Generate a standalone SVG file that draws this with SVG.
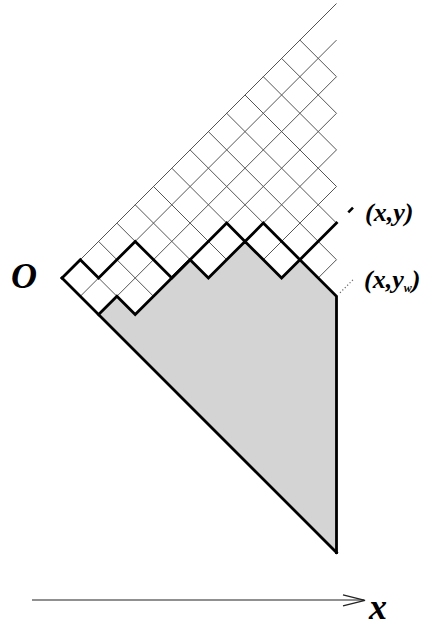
<svg xmlns="http://www.w3.org/2000/svg" width="433" height="627" viewBox="0 0 433 627">
  <style>
    .grid { stroke: #555; stroke-width: 1; fill: none; }
    .thick { stroke: #000; stroke-width: 2.8; fill: none; stroke-linejoin: miter; stroke-linecap: square; }
    .lbl { font-family: "Liberation Serif", "Times New Roman", serif; font-weight: bold; font-style: italic; fill: #000; }
  </style>
  <rect width="433" height="627" fill="#fff"/>

  <g id="shaded-region">
    <polygon points="98.6,314.6 116.9,296.3 135.2,314.6 190.1,259.7 208.4,278 245,241.4 281.6,278 299.9,259.7 336.5,296.3 336.5,552.5" fill="#d4d4d4"/>
  </g>

  <g id="grid">
    <!-- up-right lines -->
    <line class="grid" x1="62" y1="278" x2="336.5" y2="3.5"/>
    <line class="grid" x1="80.3" y1="296.3" x2="336.5" y2="40.1"/>
    <line class="grid" x1="98.6" y1="314.6" x2="336.5" y2="76.7"/>
    <line class="grid" x1="135.2" y1="314.6" x2="336.5" y2="113.3"/>
    <line class="grid" x1="208.4" y1="278" x2="336.5" y2="149.9"/>
    <line class="grid" x1="263.3" y1="259.7" x2="336.5" y2="186.5"/>
    <line class="grid" x1="281.6" y1="278" x2="336.5" y2="223.1"/>
    <line class="grid" x1="318.2" y1="278" x2="336.5" y2="259.7"/>
    <!-- down-right lines -->
    <line class="grid" x1="80.3" y1="259.7" x2="135.2" y2="314.6"/>
    <line class="grid" x1="98.6" y1="241.4" x2="153.5" y2="296.3"/>
    <line class="grid" x1="116.9" y1="223.1" x2="171.8" y2="278"/>
    <line class="grid" x1="135.2" y1="204.8" x2="208.4" y2="278"/>
    <line class="grid" x1="153.5" y1="186.5" x2="226.7" y2="259.7"/>
    <line class="grid" x1="171.8" y1="168.2" x2="281.6" y2="278"/>
    <line class="grid" x1="190.1" y1="149.9" x2="336.5" y2="296.3"/>
    <line class="grid" x1="208.4" y1="131.6" x2="336.5" y2="259.7"/>
    <line class="grid" x1="226.7" y1="113.3" x2="336.5" y2="223.1"/>
    <line class="grid" x1="245" y1="95" x2="336.5" y2="186.5"/>
    <line class="grid" x1="263.3" y1="76.7" x2="336.5" y2="149.9"/>
    <line class="grid" x1="281.6" y1="58.4" x2="336.5" y2="113.3"/>
    <line class="grid" x1="299.9" y1="40.1" x2="336.5" y2="76.7"/>
  </g>

  <g id="paths">
    <polyline id="walk-y" class="thick" points="62,278 80.3,259.7 98.6,278 135.2,241.4 171.8,278 226.7,223.1 245,241.4 263.3,223.1 299.9,259.7 336.5,223.1"/>
    <polyline id="walk-yw" class="thick" points="98.6,314.6 116.9,296.3 135.2,314.6 190.1,259.7 208.4,278 245,241.4 281.6,278 299.9,259.7 336.5,296.3 336.5,552.5"/>
    <line id="lower-boundary" class="thick" x1="62" y1="278" x2="336.5" y2="552.5"/>
    <line id="dash-xy" x1="348.3" y1="212.3" x2="353" y2="207.6" stroke="#000" stroke-width="2.6"/>
    <line id="dots-xyw" x1="340" y1="292.8" x2="353" y2="279.8" stroke="#666" stroke-width="1.2" stroke-dasharray="1.2,2.2"/>
  </g>

  <g id="axis">
    <line x1="32" y1="600" x2="364" y2="600" stroke="#222" stroke-width="1.2"/>
    <polyline points="343,594.8 365,600.3 343,605.8" fill="none" stroke="#222" stroke-width="1.3"/>
  </g>

  <g id="labels">
    <text class="lbl" x="11" y="288" font-size="36">O</text>
    <text class="lbl" x="365" y="221" font-size="26">(x,y)</text>
    <text class="lbl" x="364" y="288" font-size="26">(x,y<tspan font-size="12" dy="4">w</tspan><tspan dy="-4">)</tspan></text>
    <text class="lbl" x="369" y="618.5" font-size="36">x</text>
  </g>
</svg>
